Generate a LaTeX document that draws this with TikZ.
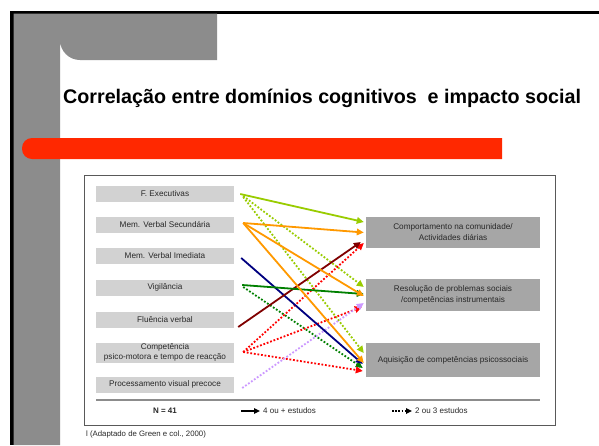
\documentclass[tikz,border=0pt]{standalone}
\usepackage{fontspec}
\setmainfont{Liberation Sans}
\usetikzlibrary{arrows.meta,calc}
\definecolor{slidegray}{RGB}{140,140,140}
\definecolor{barred}{RGB}{255,40,0}
\definecolor{lbox}{RGB}{210,210,210}
\definecolor{rbox}{RGB}{166,166,166}
\definecolor{clime}{RGB}{153,204,0}
\definecolor{corange}{RGB}{255,153,0}
\definecolor{cgreen}{RGB}{0,128,0}
\definecolor{cnavy}{RGB}{0,0,128}
\definecolor{cmaroon}{RGB}{128,0,0}
\definecolor{cred}{RGB}{255,0,0}
\definecolor{clav}{RGB}{204,153,255}
\definecolor{txt}{RGB}{40,40,40}
\begin{document}
\begin{tikzpicture}[x=1pt,y=-1pt,
  lefbox/.style={fill=lbox, minimum width=138pt, minimum height=16pt, inner sep=0pt,
    font=\fontsize{8.2}{10}\selectfont, text=txt, align=center},
  rigbox/.style={fill=rbox, minimum width=174pt, inner sep=0pt,
    font=\fontsize{8.2}{11}\selectfont, text=txt, align=center},
  small/.style={inner sep=0pt, font=\fontsize{8}{10}\selectfont, text=txt},
  solidarr/.style={line width=1.8pt, -{Triangle[length=7pt,width=6.5pt]}},
  dotarr/.style={line width=1.8pt, dash pattern=on 1.8pt off 1.8pt, -{Triangle[length=7pt,width=6.5pt]}},
]
\useasboundingbox (0,0) rectangle (599,445);
\fill[white] (0,0) rectangle (599,445);
% slide frame
\fill[black] (10,10.5) rectangle (599,13.5);
\fill[black] (10,10.5) rectangle (13.5,445);
\fill[slidegray] (13.5,13.5) -- (217,13.5) -- (217,60) -- (80,60) arc[start angle=90,end angle=180,radius=20] -- (60,445) -- (13.5,445) -- cycle;
% red bar
\fill[barred] (502,138) [rounded corners=10pt] -- (22,138) -- (22,159) [sharp corners] -- (502,159) -- cycle;
% title
\node[anchor=base west, inner sep=0pt, font=\fontsize{19.7}{22}\selectfont\bfseries] (title) at (63,103)
  {Correlação entre domínios cognitivos\ \ e impacto social};
% diagram frame
\draw[line width=0.9pt, black!65] (84,175) rectangle (555,425);
% left boxes
\node[lefbox] (fe)   at (165,193.5) {F. Executivas};
\node[lefbox] (ms)   at (165,224.5) {Mem. Verbal Secundária};
\node[lefbox] (mi)   at (165,256)   {Mem. Verbal Imediata};
\node[lefbox] (vig)  at (165,287.5) {Vigilância};
\node[lefbox] (flu)  at (165,320)   {Fluência verbal};
\node[lefbox, minimum height=20pt] (cpt) at (165,352.5) {Competência\\psico-motora e tempo de reacção};
\node[lefbox] (proc) at (165,384.5) {Processamento visual precoce};
% right boxes
\node[rigbox, minimum height=31pt] (comp) at (453,232.5) {Comportamento na comunidade/\\Actividades diárias};
\node[rigbox, minimum height=32pt] (res)  at (453,295)   {Resolução de problemas sociais\\/competências instrumentais};
\node[rigbox, minimum height=34pt] (aq)   at (453,360)   {Aquisição de competências psicossociais};
% arrows
\draw[dotarr, clime]   ($(fe.east)+(9,2.5)$) -- ($(res.west)+(-2,-8)$);
\draw[dotarr, clime]   ($(fe.east)+(9,3.5)$) -- ($(aq.west)+(-2,-7)$);
\draw[dotarr, cgreen]  ($(vig.east)+(9,-0.5)$) -- ($(aq.west)+(-3,8)$);
\draw[dotarr, cred]    ($(cpt.east)+(9,-0.5)$) -- ($(comp.west)+(-2,10.5)$);
\draw[dotarr, cred]    ($(cpt.east)+(9,-0.5)$) -- ($(res.west)+(-4,12)$);
\draw[dotarr, cred]    ($(cpt.east)+(9,-0.5)$) -- ($(aq.west)+(-3,11)$);
\draw[dotarr, clav]    ($(proc.east)+(8,3.5)$) -- ($(res.west)+(-2,8)$);
\draw[solidarr, cnavy]   ($(mi.east)+(7,2)$) -- ($(aq.west)+(-3,4)$);
\draw[solidarr, cmaroon] ($(flu.east)+(4,7)$) -- ($(comp.west)+(-5,9.5)$);
\draw[solidarr, cgreen]  ($(vig.east)+(8,-2.5)$) -- ($(res.west)+(-2,-1)$);
\draw[solidarr, clime]   ($(fe.east)+(6,0.5)$) -- ($(comp.west)+(-2,-10.5)$);
\draw[solidarr, corange] ($(ms.east)+(9,-1.5)$) -- ($(comp.west)+(-2,0)$);
\draw[solidarr, corange] ($(ms.east)+(9,-1.5)$) -- ($(res.west)+(-2,1)$);
\draw[solidarr, corange] ($(ms.east)+(9,-1.5)$) -- ($(aq.west)+(-2,3)$);
% legend
\coordinate (sepl) at (96,400);
\coordinate (sepr) at (540,400);
\draw[line width=1.3pt, black!45] (sepl) -- (sepr);
\node[small, font=\fontsize{8}{10}\selectfont\bfseries] (nn) at (165,411) {N = 41};
\node[small, anchor=west] (leg1) at (263,411) {4 ou + estudos};
\node[small, anchor=west] (leg2) at (415,411) {2 ou 3 estudos};
\coordinate (l1s) at (241,411);
\coordinate (l2s) at (392,411);
\draw[line width=1.8pt, black, -{Triangle[length=6pt,width=5.5pt]}] (l1s) -- ($(leg1.west)+(-3,0)$);
\draw[line width=1.6pt, black, dash pattern=on 1.6pt off 1.6pt, -{Triangle[length=6pt,width=5.5pt]}] (l2s) -- ($(leg2.west)+(-3,0)$);
% footnote
\node[inner sep=0pt, anchor=base west, font=\fontsize{7.8}{9}\selectfont, text=txt] (foot) at (86,436) {l (Adaptado de Green e col., 2000)};
\end{tikzpicture}
\end{document}
